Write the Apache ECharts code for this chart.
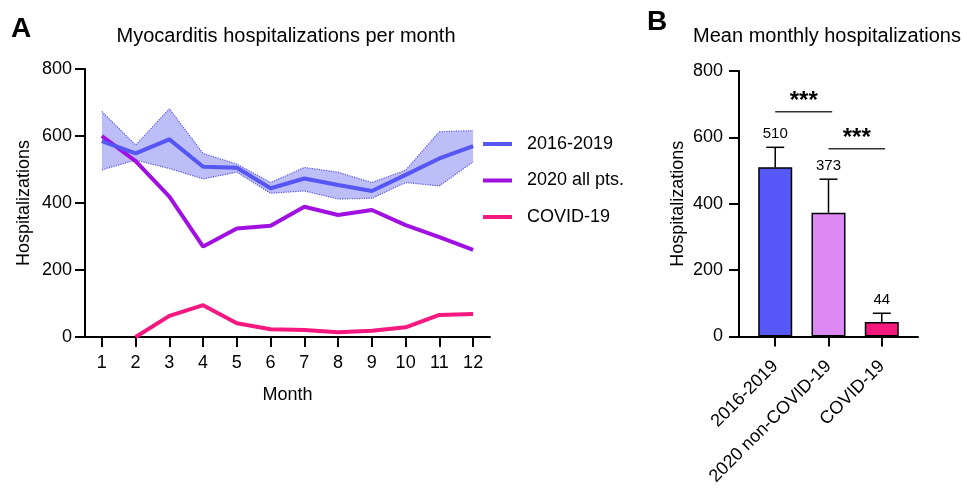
<!DOCTYPE html>
<html><head><meta charset="utf-8">
<script src="https://cdn.jsdelivr.net/npm/echarts@6/dist/echarts.min.js"></script>
<style>html,body{margin:0;padding:0;background:#fff}#c{width:963px;height:488px}</style>
</head><body><div id="c"></div>
<script>
const months = ['1','2','3','4','5','6','7','8','9','10','11','12'];
const mean1619 = [585,548,590,508,505,444,473,454,436,484,533,570];
const upper1619 = [673,573,681,548,516,461,506,492,461,498,613,616];
const lower1619 = [499,528,503,472,492,429,436,412,414,461,451,523];
const all2020 = [600,525,419,270,324,332,389,364,379,334,298,260];
const covid = [null,0,63,95,41,23,21,14,19,29,66,69];
const yTicks = [0,200,400,600,800];

const barCats = ['2016-2019','2020 non-COVID-19','COVID-19'];
const barMeans = [510,373,44];
const barErrTop = [570,474,70];
const barColors = ['#5658F7','#DD89F5','#F5187F'];
const sigLines = [ {x0:1.0,x1:2.07,y:677,label:'***'}, {x0:2.0,x1:3.06,y:566,label:'***'} ];

const FONT = "'Liberation Sans', Arial, sans-serif";
const chart = echarts.init(document.getElementById('c'), null, {renderer:'canvas'});
const bandDiff = upper1619.map((u,i)=>u-lower1619[i]);

const axisCommon = {
  axisLine:{show:true,lineStyle:{color:'#000',width:2}},
  axisTick:{show:true,length:10,lineStyle:{color:'#000',width:2}},
  splitLine:{show:false}
};
const nameStyle = {fontSize:18,color:'#000',fontFamily:FONT};

const option = {
  animation:false,
  textStyle:{fontFamily:FONT},
  title:[
    {text:'A',left:6,top:10,textStyle:{fontSize:28,fontWeight:'bold',color:'#000',fontFamily:FONT}},
    {text:'Myocarditis hospitalizations per month',left:281,top:21,textAlign:'center',textStyle:{fontSize:20,fontWeight:'normal',color:'#000',fontFamily:FONT}},
    {text:'B',left:642,top:3,textStyle:{fontSize:28,fontWeight:'bold',color:'#000',fontFamily:FONT}},
    {text:'Mean monthly hospitalizations',left:822,top:21,textAlign:'center',textStyle:{fontSize:20,fontWeight:'normal',color:'#000',fontFamily:FONT}}
  ],
  legend:{
    orient:'vertical',left:483,top:135,itemWidth:29,itemHeight:4,itemGap:18.5,padding:0,
    icon:'rect',
    data:['2016-2019','2020 all pts.','COVID-19'],
    textStyle:{fontSize:18,color:'#000',fontFamily:FONT,padding:[0,0,0,10]}
  },
  grid:[
    {left:85,right:473,top:69,bottom:151},
    {left:739,right:45,top:71,bottom:151}
  ],
  xAxis:[
    Object.assign({},axisCommon,{gridIndex:0,type:'category',data:months,boundaryGap:true,
      axisTick:{show:true,length:10,alignWithLabel:true,lineStyle:{color:'#000',width:2}},
      axisLabel:{color:'#000',fontFamily:FONT,fontSize:18,margin:17,interval:0},
      name:'Month',nameLocation:'middle',nameGap:49,nameTextStyle:nameStyle}),
    Object.assign({},axisCommon,{gridIndex:1,type:'value',min:0.32,max:3.68,
      axisTick:{show:true,length:10,customValues:[1,2,3],lineStyle:{color:'#000',width:2}},
      axisLabel:{color:'#000',fontFamily:FONT,fontSize:18,margin:27,rotate:45,customValues:[1,2,3],
        formatter:v=>barCats[Math.round(v)-1]}})
  ],
  yAxis:[
    Object.assign({},axisCommon,{gridIndex:0,type:'value',min:yTicks[0],max:yTicks[yTicks.length-1],interval:200,
      axisLabel:{color:'#000',fontFamily:FONT,fontSize:18,margin:13},
      name:'Hospitalizations',nameLocation:'middle',nameGap:52,nameTextStyle:nameStyle}),
    Object.assign({},axisCommon,{gridIndex:1,type:'value',min:yTicks[0],max:yTicks[yTicks.length-1],interval:200,
      axisLabel:{color:'#000',fontFamily:FONT,fontSize:18,margin:16},
      name:'Hospitalizations',nameLocation:'middle',nameGap:52,nameTextStyle:nameStyle})
  ],
  series:[
    {name:'lower',type:'line',xAxisIndex:0,yAxisIndex:0,stack:'band',data:lower1619,symbol:'none',
      lineStyle:{color:'#5656F5',width:1.2,type:'dotted'},z:1,silent:true},
    {name:'band',type:'line',xAxisIndex:0,yAxisIndex:0,stack:'band',data:bandDiff,symbol:'none',
      lineStyle:{color:'#5656F5',width:1.2,type:'dotted'},areaStyle:{color:'#BDBDF8',opacity:1},z:1,silent:true},
    {name:'2016-2019',type:'line',xAxisIndex:0,yAxisIndex:0,data:mean1619,symbol:'none',
      lineStyle:{color:'#5656F5',width:4},itemStyle:{color:'#5656F5'},z:3},
    {name:'2020 all pts.',type:'line',xAxisIndex:0,yAxisIndex:0,data:all2020,symbol:'none',
      lineStyle:{color:'#A010E0',width:4},itemStyle:{color:'#A010E0'},z:2},
    {name:'COVID-19',type:'line',xAxisIndex:0,yAxisIndex:0,data:covid,symbol:'none',
      lineStyle:{color:'#F5187F',width:4},itemStyle:{color:'#F5187F'},z:2},
    {name:'bars',type:'bar',xAxisIndex:1,yAxisIndex:1,barWidth:34,
      data:barMeans.map((v,i)=>({value:[i+1,v],itemStyle:{color:barColors[i],borderColor:'#000',borderWidth:1.5}}))},
    {name:'err',type:'custom',xAxisIndex:1,yAxisIndex:1,z:5,
      data:barMeans.map((v,i)=>[i+1,v,barErrTop[i],barMeans[i]]),
      renderItem:function(params,api){
        const x=api.value(0);
        const p0=api.coord([x,api.value(1)]);
        const p1=api.coord([x,api.value(2)]);
        const hw=9;
        return {type:'group',children:[
          {type:'line',shape:{x1:p0[0],y1:p0[1],x2:p1[0],y2:p1[1]},style:{stroke:'#000',lineWidth:1.5}},
          {type:'line',shape:{x1:p1[0]-hw,y1:p1[1],x2:p1[0]+hw,y2:p1[1]},style:{stroke:'#000',lineWidth:1.5}},
          {type:'text',style:{text:String(api.value(3)),x:p1[0],y:p1[1]-13,textAlign:'center',textVerticalAlign:'middle',
            fontSize:15,fontFamily:FONT,fill:'#000'}}
        ]};
      }},
    {name:'sig',type:'custom',xAxisIndex:1,yAxisIndex:1,z:5,
      data:sigLines.map(s=>[s.x0,s.x1,s.y]),
      renderItem:function(params,api){
        const a=api.coord([api.value(0),api.value(2)]);
        const b=api.coord([api.value(1),api.value(2)]);
        return {type:'group',children:[
          {type:'line',shape:{x1:a[0],y1:a[1],x2:b[0],y2:b[1]},style:{stroke:'#333',lineWidth:1.5}},
          {type:'text',style:{text:sigLines[params.dataIndex].label,x:(a[0]+b[0])/2,y:a[1]-10,textAlign:'center',textVerticalAlign:'middle',
            fontSize:24,fontWeight:'bold',fontFamily:FONT,fill:'#000'}}
        ]};
      }}
  ]
};
chart.setOption(option);
</script></body></html>
